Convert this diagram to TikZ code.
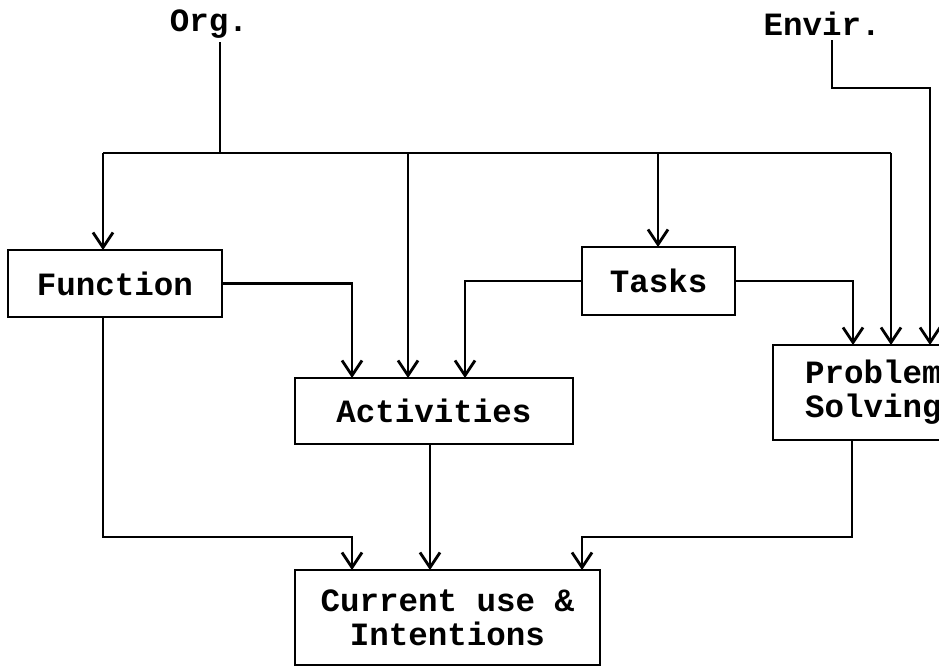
\documentclass[tikz,border=0pt]{standalone}
\usepackage{fontspec}
\setmainfont{Liberation Mono}
\usetikzlibrary{arrows.meta,calc}
\begin{document}
\begin{tikzpicture}[x=1pt,y=-1pt,
  every node/.style={font=\fontsize{32.5}{34}\selectfont\bfseries, inner sep=0pt, outer sep=0pt},
  box/.style={draw, line width=2.8pt, align=center},
  link/.style={line width=2.8pt, line join=miter},
  flow/.style={link, -{Straight Barb[length=15pt,width=20pt,line width=2.8pt]}}]
\useasboundingbox (0,0) rectangle (939,667);
\clip (0,0) rectangle (939,667);

% labels of the two sources
\node (org) at (209,24) {Org.};
\node (env) at (822,24) {Envir.};

% boxes
\node[box, minimum width=214pt, minimum height=67pt] (func) at (115,283.5) {Function};
\node[box, minimum width=153pt, minimum height=68pt] (task) at (658.5,281) {Tasks};
\node[box, minimum width=278pt, minimum height=66pt] (act) at (434,411) {Activities};
\node[box, minimum width=214pt, minimum height=95pt, text width=150pt, align=left] (prob) at (880,392.5) {Problem\\Solving};
\node[box, minimum width=305pt, minimum height=95pt] (cur) at (447.5,617.5) {Current use \&\\Intentions};

% organisational bus
\coordinate (bus) at (220,153);
\draw[link] (220,42) -- (bus);
\draw[link] (103,153) -- (891,153);
\draw[flow] (103,153) -- (103,0 |- func.north);
\draw[flow] (408,153) -- (408,0 |- act.north);
\draw[flow] (658,153) -- (658,0 |- task.north);
\draw[flow] (891,153) -- (891,0 |- prob.north);

% environment feed
\draw[flow] (832,40) |- (930,88) -- (930,0 |- prob.north);

% links between the boxes
\draw[flow] (func.east) -| (352,0 |- act.north);
\draw[flow] (task.west) -| (465,0 |- act.north);
\draw[flow] (task.east) -| (853,0 |- prob.north);

% links into the result box
\draw[flow] (103,0 |- func.south) |- (352,537) -- (352,0 |- cur.north);
\draw[flow] (430,0 |- act.south) -- (430,0 |- cur.north);
\draw[flow] (852,0 |- prob.south) |- (582,537) -- (582,0 |- cur.north);
\end{tikzpicture}
\end{document}
